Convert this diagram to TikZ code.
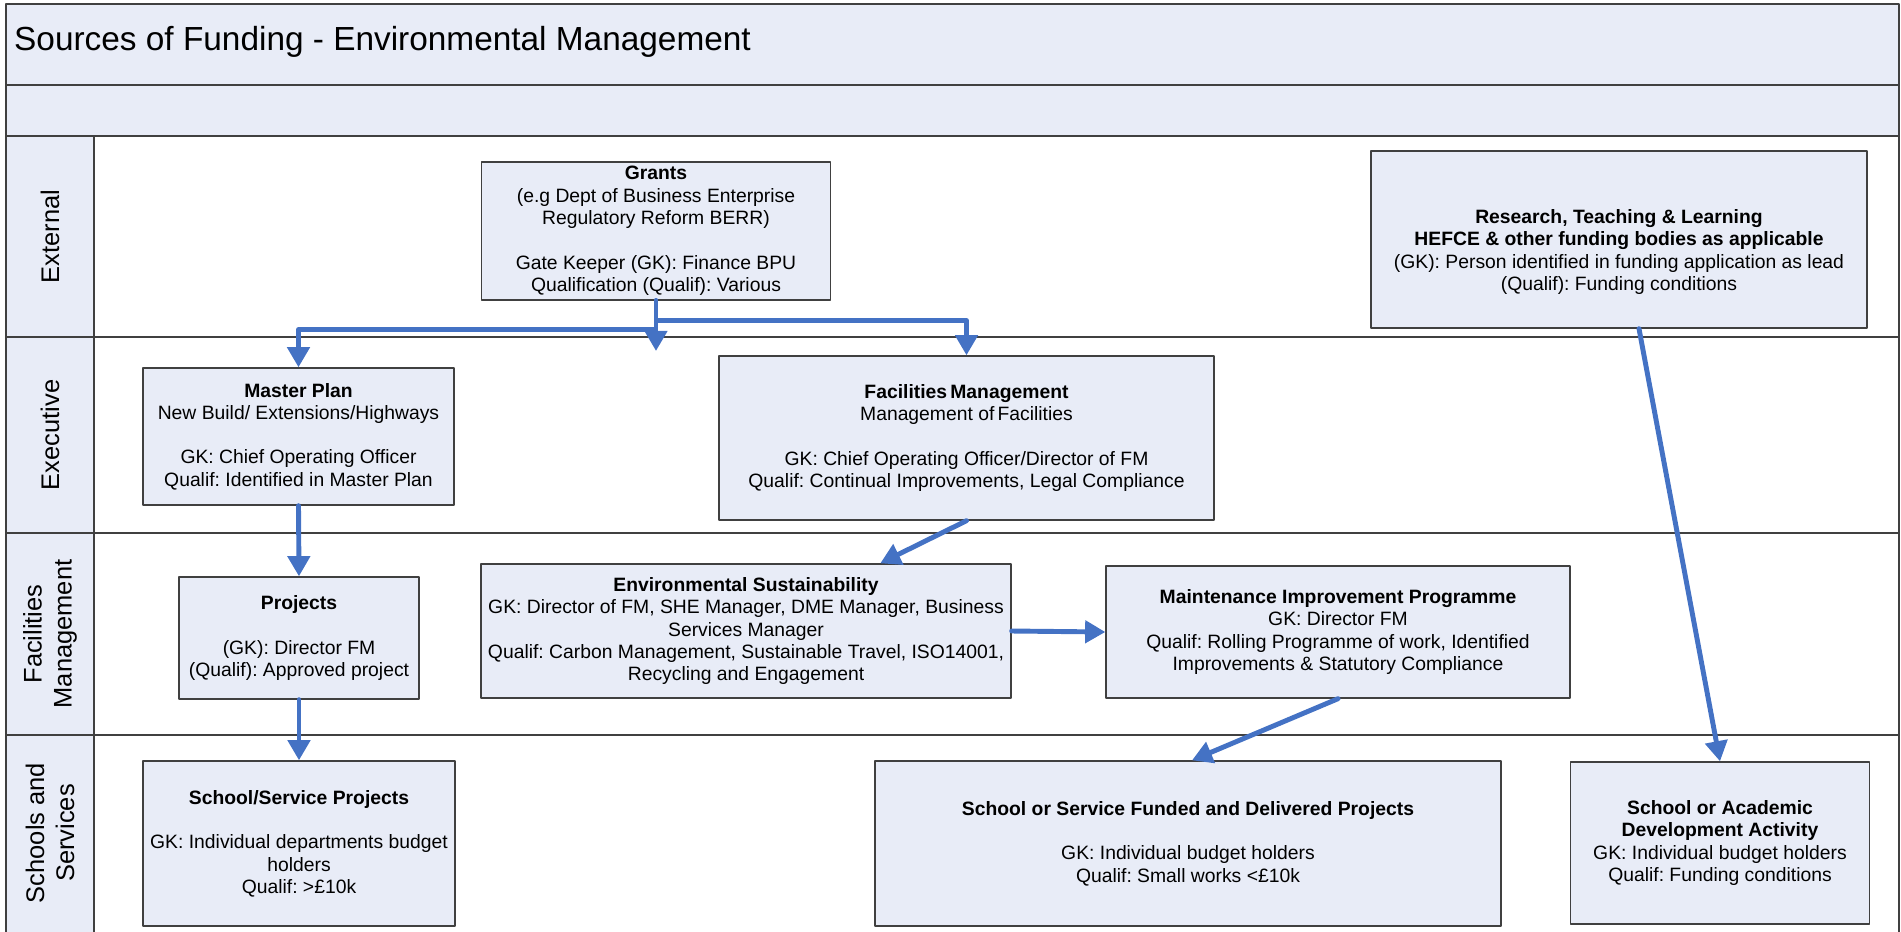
\documentclass[tikz,border=0pt]{standalone}
\usepackage{fontspec}
\setmainfont{Liberation Sans}
\usetikzlibrary{arrows.meta}
\definecolor{bandfill}{RGB}{232,236,247}
\definecolor{framegrey}{RGB}{64,64,64}
\definecolor{flowblue}{RGB}{68,114,196}
\frenchspacing

\begin{document}
\begin{tikzpicture}[line cap=round,line join=round,>={Triangle[width=12.5pt,length=11.5pt]},x=0.02cm,y=-0.02cm,
    box/.style={draw=framegrey,line width=0.8pt,fill=bandfill,align=center,inner sep=2pt,font=\fontsize{11}{12.7}\selectfont},
    lane/.style={rotate=90,align=center,font=\fontsize{14.5}{17}\selectfont},
    flow/.style={->,color=flowblue,line width=2.8pt}]
    \useasboundingbox (0,0) rectangle (1901,931);
    \clip (0,0) rectangle (1901,931);
    % title bands and lane column
    \fill[bandfill] (6,4) rectangle (1899,136);
    \fill[bandfill] (6,136) rectangle (94,940);
    \draw[color=framegrey,line width=1pt] (6,940) -- (6,4) -- (1899,4) -- (1899,940);
    \foreach \y in {85,136,337,533,735}
    \draw[color=framegrey,line width=0.8pt] (6,\y) -- (1899,\y);
    \draw[color=framegrey,line width=0.8pt] (94,136) -- (94,940);
    \node [anchor=west,font=\fontsize{19}{22}\selectfont] (title) at (8,42) {Sources of Funding - Environmental Management};
    \node [lane] (lext) at (50,236.5) {External};
    \node [lane] (lexe) at (50,435) {Executive};
    \node [lane] (lfm) at (50,634) {Facilities\\Management};
    \node [lane] (lschool) at (50,833) {Schools and\\Services};
    % boxes
    \node [box,minimum width=6.98cm,minimum height=2.76cm] (grants) at (656,231) {\textbf{Grants}\\(e.g Dept of Business Enterprise\\Regulatory Reform BERR)\\[\baselineskip]Gate Keeper (GK): Finance BPU\\Qualification (Qualif): Various};
    \node [box,minimum width=9.92cm,minimum height=3.54cm] (research) at (1619,239.5) {\mbox{}\\[9.5pt]\textbf{Research, Teaching \& Learning}\\\textbf{HEFCE \& other funding bodies as applicable}\\(GK): Person identified in funding application as lead\\(Qualif): Funding conditions};
    \node [box,minimum width=6.22cm,minimum height=2.74cm] (master) at (298.5,436.5) {\textbf{Master Plan}\\New Build/ Extensions/Highways\\[\baselineskip]GK: Chief Operating Officer\\Qualif: Identified in Master Plan};
    \node [box,minimum width=9.9cm,minimum height=3.28cm] (fm) at (966.5,438) {\textbf{Facilities\,Management}\\Management of\,Facilities\\[\baselineskip]GK: Chief Operating Officer/Director of FM\\Qualif: Continual Improvements, Legal Compliance};
    \node [box,minimum width=4.8cm,minimum height=2.44cm] (projects) at (299,638) {\textbf{Projects}\\[\baselineskip](GK): Director FM\\(Qualif): Approved project};
    \node [box,minimum width=10.6cm,minimum height=2.68cm] (envsus) at (746,631) {\textbf{Environmental Sustainability}\\GK: Director of FM, SHE Manager, DME Manager, Business\\Services Manager\\Qualif: Carbon Management, Sustainable Travel, ISO14001,\\Recycling and Engagement};
    \node [box,minimum width=9.28cm,minimum height=2.64cm] (maint) at (1338,632) {\textbf{Maintenance Improvement Programme}\\GK: Director FM\\Qualif: Rolling Programme of work, Identified\\Improvements \& Statutory Compliance};
    \node [box,minimum width=6.24cm,minimum height=3.3cm] (ssproj) at (299,843.5) {\textbf{School/Service Projects}\\[\baselineskip]GK: Individual departments budget\\holders\\Qualif: >£10k};
    \node [box,minimum width=12.52cm,minimum height=3.3cm] (funded) at (1188,843.5) {\textbf{School or Service Funded and Delivered Projects}\\[\baselineskip]GK: Individual budget holders\\Qualif: Small works <£10k};
    \node [box,minimum width=5.98cm,minimum height=3.24cm] (academic) at (1720,843) {\textbf{School or Academic}\\\textbf{Development Activity}\\GK: Individual budget holders\\Qualif: Funding conditions};
    \coordinate (gdrop) at (656,351);
    % funding flows
    \draw[flow] (grants.south) -- (gdrop);
    \draw[flow] (grants.south) -- ++(0,29) -| (master.north);
    \draw[flow] (grants.south) -- ++(0,20) -| (fm.north);
    \draw[flow] (master.south) -- (projects.north);
    \draw[flow] (projects.south) -- (ssproj.north);
    \draw[flow] (fm.south) -- ([xshift=8cm]envsus.north west);
    \draw[flow] (envsus.east) -- (maint.west);
    \draw[flow] (maint.south) -- ([xshift=0.08cm]funded.north);
    \draw[flow] ([xshift=0.4cm]research.south) -- (academic.north);
\end{tikzpicture}
\end{document}
